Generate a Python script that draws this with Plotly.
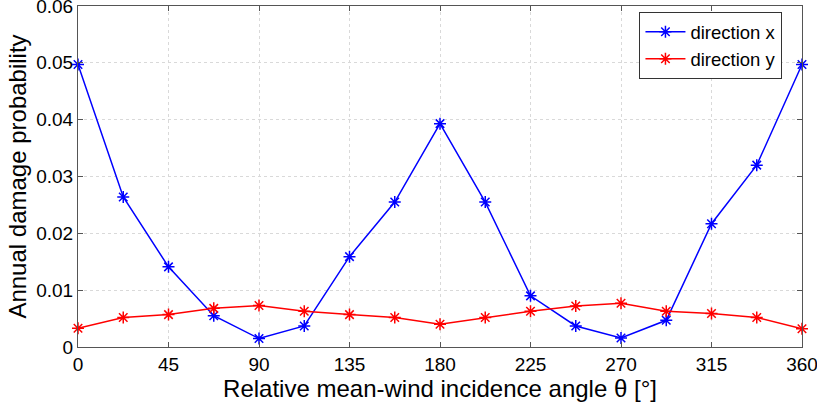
import plotly.graph_objects as go

angles = [0, 22.5, 45, 67.5, 90, 112.5, 135, 157.5, 180, 202.5, 225, 247.5, 270, 292.5, 315, 337.5, 360]
dir_x = [0.0497, 0.0264, 0.0141, 0.0055, 0.0015, 0.0037, 0.0159, 0.0255, 0.0393, 0.0255,
         0.0090, 0.0037, 0.0016, 0.0047, 0.0217, 0.0320, 0.0497]
dir_y = [0.0033, 0.0052, 0.0057, 0.0068, 0.0073, 0.0063, 0.0057, 0.0052, 0.0040, 0.0052,
         0.0063, 0.0072, 0.0077, 0.0063, 0.0059, 0.0052, 0.0032]
x_ticks = [0, 45, 90, 135, 180, 225, 270, 315, 360]
y_ticks = [0, 0.01, 0.02, 0.03, 0.04, 0.05, 0.06]
y_tick_text = ["0", "0.01", "0.02", "0.03", "0.04", "0.05", "0.06"]

FONT = "Liberation Sans, Arial, sans-serif"

fig = go.Figure()
fig.add_trace(go.Scatter(x=angles, y=dir_x, name="direction x", mode="lines+markers",
                         line=dict(color="#0000ff", width=1.5),
                         marker=dict(symbol="asterisk-open", size=10,
                                     line=dict(color="#0000ff", width=1.5)),
                         cliponaxis=False))
fig.add_trace(go.Scatter(x=angles, y=dir_y, name="direction y", mode="lines+markers",
                         line=dict(color="#ff0000", width=1.5),
                         marker=dict(symbol="asterisk-open", size=10,
                                     line=dict(color="#ff0000", width=1.5)),
                         cliponaxis=False))

axis_common = dict(showline=True, linecolor="#555555", linewidth=1, mirror="allticks",
                   ticks="inside", ticklen=5, tickcolor="#555555",
                   showgrid=True, gridcolor="#d9d9d9", griddash="dot", gridwidth=1,
                   zeroline=False, automargin=False, ticklabeloverflow="allow",
                   tickfont=dict(family=FONT, size=19, color="#000000"))

fig.update_layout(
    width=817, height=406,
    margin=dict(l=78, r=15, t=6, b=59),
    paper_bgcolor="white", plot_bgcolor="white",
    font=dict(family=FONT, color="#000000"),
    xaxis=dict(range=[0, 360], tickvals=x_ticks,
               title=dict(text="Relative mean-wind incidence angle θ [°]",
                          font=dict(family=FONT, size=24), standoff=4),
               **axis_common),
    yaxis=dict(range=[0, 0.06], tickvals=y_ticks, ticktext=y_tick_text,
               title=dict(text="Annual damage probability",
                          font=dict(family=FONT, size=24), standoff=2),
               **axis_common),
    legend=dict(x=0.973, y=0.982, xanchor="right", yanchor="top",
                bgcolor="white", bordercolor="#333333", borderwidth=1,
                font=dict(family=FONT, size=18.5), tracegroupgap=0,
                itemwidth=40),
    showlegend=True,
)

fig.write_html("out.html", config={"displayModeBar": False},
               post_script="document.body.style.margin='0';document.body.style.overflow='hidden';")
